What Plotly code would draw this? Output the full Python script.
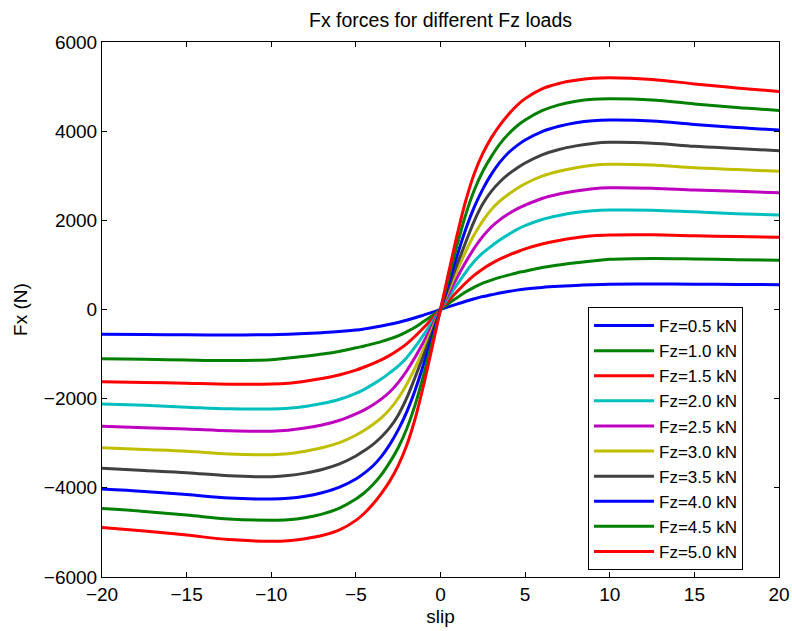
import plotly.graph_objects as go

slip = [-20, -17.5, -15, -12.5, -10, -9, -8, -7, -6, -5, -4.5, -4, -3.5, -3, -2.5, -2, -1.5, -1, -0.5, 0,
        0.5, 1, 1.5, 2, 2.5, 3, 3.5, 4, 4.5, 5, 6, 7, 8, 9, 10, 12.5, 15, 17.5, 20]

fx_05 = [-556, -562, -568, -572, -565, -555, -540, -520, -495, -460, -435, -405, -370, -330, -290, -240, -185, -125, -65, 0,
         65, 125, 185, 240, 290, 330, 370, 405, 435, 460, 495, 520, 540, 555, 565, 572, 568, 562, 556]
fx_10 = [-1103, -1118, -1135, -1145, -1125, -1090, -1050, -1000, -940, -860, -820, -770, -720, -660, -590, -500, -400, -270, -140, 0,
         140, 270, 400, 500, 590, 660, 720, 770, 820, 860, 940, 1000, 1050, 1090, 1125, 1145, 1135, 1118, 1103]
fx_15 = [-1619, -1635, -1655, -1675, -1672, -1655, -1610, -1550, -1470, -1360, -1290, -1215, -1130, -1030, -910, -770, -600, -410, -210, 0,
         210, 410, 600, 770, 910, 1030, 1130, 1215, 1290, 1360, 1470, 1550, 1610, 1655, 1672, 1675, 1655, 1635, 1619]
fx_20 = [-2119, -2150, -2190, -2228, -2231, -2215, -2175, -2110, -2020, -1880, -1790, -1680, -1560, -1420, -1270, -1080, -840, -570, -290, 0,
         290, 570, 840, 1080, 1270, 1420, 1560, 1680, 1790, 1880, 2020, 2110, 2175, 2215, 2231, 2228, 2190, 2150, 2119]
fx_25 = [-2619, -2650, -2680, -2720, -2731, -2710, -2660, -2590, -2490, -2340, -2250, -2140, -2010, -1850, -1640, -1380, -1070, -730, -370, 0,
         370, 730, 1070, 1380, 1640, 1850, 2010, 2140, 2250, 2340, 2490, 2590, 2660, 2710, 2731, 2720, 2680, 2650, 2619]
fx_30 = [-3099, -3140, -3180, -3240, -3256, -3235, -3180, -3100, -2990, -2820, -2710, -2580, -2430, -2240, -1990, -1680, -1310, -890, -450, 0,
         450, 890, 1310, 1680, 1990, 2240, 2430, 2580, 2710, 2820, 2990, 3100, 3180, 3235, 3256, 3240, 3180, 3140, 3099]
fx_35 = [-3561, -3610, -3660, -3730, -3749, -3725, -3670, -3590, -3470, -3285, -3165, -3030, -2860, -2650, -2370, -1990, -1520, -1030, -520, 0,
         520, 1030, 1520, 1990, 2370, 2650, 2860, 3030, 3165, 3285, 3470, 3590, 3670, 3725, 3749, 3730, 3660, 3610, 3561]
fx_40 = [-4025, -4080, -4150, -4230, -4249, -4235, -4190, -4110, -3990, -3800, -3670, -3510, -3300, -3030, -2700, -2300, -1810, -1230, -620, 0,
         620, 1230, 1810, 2300, 2700, 3030, 3300, 3510, 3670, 3800, 3990, 4110, 4190, 4235, 4249, 4230, 4150, 4080, 4025]
fx_45 = [-4466, -4530, -4610, -4700, -4726, -4715, -4670, -4590, -4460, -4250, -4110, -3930, -3710, -3430, -3100, -2680, -2140, -1470, -740, 0,
         740, 1470, 2140, 2680, 3100, 3430, 3710, 3930, 4110, 4250, 4460, 4590, 4670, 4715, 4726, 4700, 4610, 4530, 4466]
fx_50 = [-4890, -4970, -5060, -5160, -5197, -5185, -5140, -5070, -4950, -4730, -4570, -4370, -4130, -3850, -3500, -3050, -2450, -1700, -860, 0,
         860, 1700, 2450, 3050, 3500, 3850, 4130, 4370, 4570, 4730, 4950, 5070, 5140, 5185, 5197, 5160, 5060, 4970, 4890]

labels = ["Fz=0.5 kN", "Fz=1.0 kN", "Fz=1.5 kN", "Fz=2.0 kN", "Fz=2.5 kN",
          "Fz=3.0 kN", "Fz=3.5 kN", "Fz=4.0 kN", "Fz=4.5 kN", "Fz=5.0 kN"]
series = [fx_05, fx_10, fx_15, fx_20, fx_25, fx_30, fx_35, fx_40, fx_45, fx_50]
colors = ["rgb(0,0,255)", "rgb(0,128,0)", "rgb(255,0,0)", "rgb(0,191,191)",
          "rgb(191,0,191)", "rgb(191,191,0)", "rgb(64,64,64)", "rgb(0,0,255)",
          "rgb(0,128,0)", "rgb(255,0,0)"]

xticks = [-20, -15, -10, -5, 0, 5, 10, 15, 20]
yticks = [-6000, -4000, -2000, 0, 2000, 4000, 6000]

fig = go.Figure()
for i, (lab, ys, col) in enumerate(zip(labels, series, colors)):
    fig.add_trace(go.Scatter(
        x=slip, y=ys, mode="lines", name=lab,
        line=dict(color=col, width=3, shape="spline", smoothing=1.0),
    ))

font = "Liberation Sans, Arial, sans-serif"
fig.update_layout(
    width=792, height=631,
    margin=dict(l=102, r=13, t=42, b=54),
    paper_bgcolor="white", plot_bgcolor="white",
    font=dict(family=font, size=19, color="black"),
    title=dict(text="Fx forces for different Fz loads", x=(102 + 677 / 2) / 792,
               xanchor="center", y=1 - 20 / 631, yanchor="middle",
               font=dict(size=19.5, family=font, color="black")),
    showlegend=True,
    legend=dict(x=(588 - 102) / 677, y=(577 - 307) / 535, xanchor="left", yanchor="top",
                bgcolor="white", bordercolor="black", borderwidth=1,
                font=dict(size=17, family=font), itemwidth=60,
                traceorder="normal"),
)
fig.update_xaxes(range=[-20, 20], tickvals=xticks, ticktext=[str(v).replace("-", "\u2212") for v in xticks],
                 showgrid=False, zeroline=False, showline=True, linecolor="black", linewidth=1,
                 mirror="ticks", ticks="inside", ticklen=5, tickcolor="black", automargin=False,
                 title=dict(text="slip", standoff=5, font=dict(size=19)))
fig.update_yaxes(range=[-6000, 6000], tickvals=yticks, ticktext=[str(v).replace("-", "\u2212") for v in yticks],
                 showgrid=False, zeroline=False, showline=True, linecolor="black", linewidth=1,
                 mirror="ticks", ticks="inside", ticklen=5, tickcolor="black", automargin=False,
                 title=dict(text="Fx (N)", standoff=11, font=dict(size=19)))

fig.write_html("out.html")
